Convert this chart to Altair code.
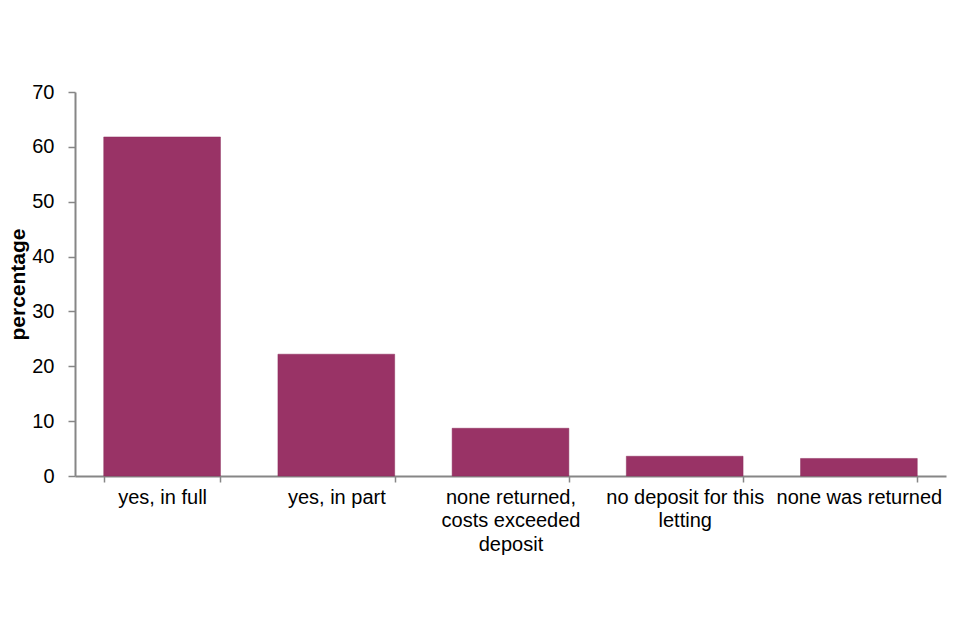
import altair as alt
import pandas as pd
import json

categories = ["yes, in full", "yes, in part", "none returned, costs exceeded deposit",
              "no deposit for this letting", "none was returned"]
values = [61.8, 22.2, 8.7, 3.6, 3.2]
label_lines = {
    "yes, in full": ["yes, in full"],
    "yes, in part": ["yes, in part"],
    "none returned, costs exceeded deposit": ["none returned,", "costs exceeded", "deposit"],
    "no deposit for this letting": ["no deposit for this", "letting"],
    "none was returned": ["none was returned"],
}
y_ticks = [0, 10, 20, 30, 40, 50, 60, 70]

df = pd.DataFrame({"category": categories, "value": values})

lab_expr = json.dumps(label_lines) + "[datum.value]"

chart = alt.Chart(df).mark_bar(color="#993366", stroke="#8a2a5a", strokeWidth=0.5).encode(
    x=alt.X("category:N", sort=categories, title=None,
            scale=alt.Scale(paddingInner=0.33, paddingOuter=0.165),
            axis=alt.Axis(labelAngle=0, labelExpr=lab_expr, tickBand="extent",
                          labelLineHeight=23.5, labelPadding=5, tickSize=6,
                          labelFontSize=20, labelColor="#000000", labelBaseline="top")),
    y=alt.Y("value:Q", title="percentage",
            scale=alt.Scale(domain=[0, 70]),
            axis=alt.Axis(values=y_ticks, grid=False, tickSize=7, labelPadding=14,
                          labelFontSize=20, labelColor="#000000",
                          titleFontSize=21, titleFontWeight="bold", titleColor="#000000",
                          titlePadding=3)),
).properties(
    width=871, height=384,
    background="white",
    autosize=alt.AutoSizeParams(type="none"),
    padding={"left": 67, "top": 84, "right": 6, "bottom": 100},
).configure_axis(
    domainColor="#868686", tickColor="#868686", domainWidth=2, tickWidth=1.5,
    labelFont="Liberation Sans", titleFont="Liberation Sans",
).configure_view(strokeWidth=0, stroke=None)

chart.save("out.html", embed_options={"renderer": "svg", "actions": False})
